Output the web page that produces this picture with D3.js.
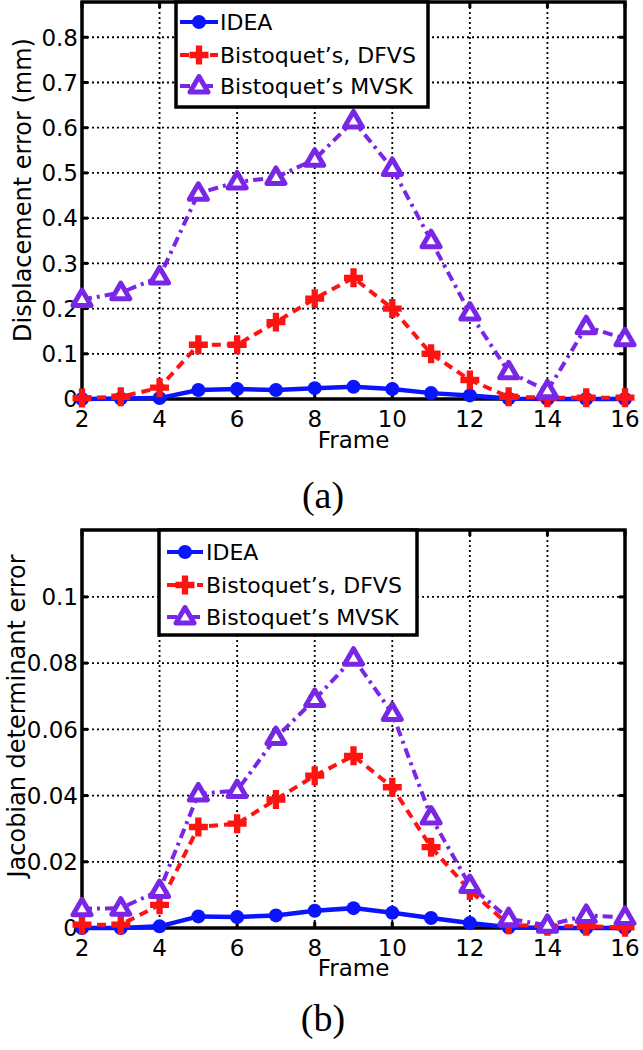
<!DOCTYPE html>
<html lang="en">
<head>
<meta charset="UTF-8">
<title>Displacement / Jacobian error</title>
<script src="https://cdn.jsdelivr.net/npm/d3@7/dist/d3.min.js"></script>
<style>
  body { margin: 0; background: #fff; }
  svg { display: block; }
  .tick-label { font-family: "DejaVu Sans", sans-serif; font-size: 23px; fill: #000; }
  .axis-title { font-family: "DejaVu Sans", sans-serif; font-size: 24px; fill: #000; }
  .legend-text { font-family: "DejaVu Sans", sans-serif; font-size: 22px; fill: #000; }
  .caption { font-family: "Liberation Serif", "DejaVu Serif", serif; font-size: 38px; fill: #000; }
</style>
</head>
<body>
<svg id="chart" width="643" height="1050"></svg>
<script>
// frames on the x axis
const frames = [2, 3, 4, 5, 6, 7, 8, 9, 10, 11, 12, 13, 14, 15, 16];
const xTicks = [2, 4, 6, 8, 10, 12, 14, 16];
const seriesNames = ["IDEA", "Bistoquet\u2019s, DFVS", "Bistoquet\u2019s MVSK"];

// (a) displacement error (mm)
const dispIdea  = [0, 0.001, 0.002, 0.020, 0.022, 0.020, 0.024, 0.027, 0.022, 0.013, 0.008, 0.001, 0, 0, 0];
const dispDfvs  = [0.002, 0.005, 0.025, 0.120, 0.120, 0.170, 0.222, 0.268, 0.200, 0.100, 0.042, 0.005, 0.003, 0.003, 0.003];
const dispMvsk  = [0.220, 0.235, 0.270, 0.455, 0.480, 0.490, 0.530, 0.615, 0.510, 0.350, 0.190, 0.060, 0.018, 0.160, 0.133];
const dispTicks = [0, 0.1, 0.2, 0.3, 0.4, 0.5, 0.6, 0.7, 0.8];
const dispTickLabels = ["0", "0.1", "0.2", "0.3", "0.4", "0.5", "0.6", "0.7", "0.8"];

// (b) jacobian determinant error
const jacIdea  = [0, 0, 0.0005, 0.0035, 0.0033, 0.0038, 0.0052, 0.0060, 0.0046, 0.0030, 0.0015, 0.0002, 0, 0, 0];
const jacDfvs  = [0.001, 0.001, 0.007, 0.0305, 0.0315, 0.0388, 0.046, 0.052, 0.0425, 0.0244, 0.0113, 0.001, 0.0005, 0.0005, 0.0002];
const jacMvsk  = [0.0058, 0.006, 0.0113, 0.0405, 0.0415, 0.0575, 0.069, 0.0815, 0.0648, 0.0335, 0.0128, 0.0028, 0.0008, 0.0038, 0.0032];
const jacTicks = [0, 0.02, 0.04, 0.06, 0.08, 0.1];
const jacTickLabels = ["0", "0.02", "0.04", "0.06", "0.08", "0.1"];

const styles = [
  { color: "#0a14ff", dash: null,        marker: "circle" },
  { color: "#ff1212", dash: "9,6",       marker: "plus" },
  { color: "#7a26e6", dash: "10,5,3,5",  marker: "triangle" }
];

const svg = d3.select("#chart");

function drawMarker(g, type, color, x, y) {
  if (type === "circle") {
    g.append("circle").attr("cx", x).attr("cy", y).attr("r", 7).attr("fill", color);
  } else if (type === "plus") {
    g.append("path").attr("transform", `translate(${x},${y})`)
      .attr("d", d3.symbol().type(d3.symbolCross).size(200)())
      .attr("fill", color);
  } else {
    g.append("path").attr("transform", `translate(${x},${y})`)
      .attr("d", "M0,-9.5L9,6L-9,6Z")
      .attr("fill", "#fff").attr("stroke", color).attr("stroke-width", 5)
      .attr("stroke-linejoin", "round");
  }
}

function drawPanel(p) {
  const g = svg.append("g");
  const x = d3.scaleLinear().domain([2, 16]).range([p.left, p.right]);
  const y = d3.scaleLinear().domain([0, p.yMax]).range([p.bottom, p.top]);

  // grid
  g.selectAll(".vgrid").data(xTicks.slice(1, -1)).enter().append("line")
    .attr("x1", d => x(d)).attr("x2", d => x(d))
    .attr("y1", p.top).attr("y2", p.bottom)
    .attr("stroke", "#000").attr("stroke-width", 1.8).attr("stroke-dasharray", "2,3");
  g.selectAll(".hgrid").data(p.yTicks.slice(1)).enter().append("line")
    .attr("x1", p.left).attr("x2", p.right)
    .attr("y1", d => y(d)).attr("y2", d => y(d))
    .attr("stroke", "#000").attr("stroke-width", 1.8).attr("stroke-dasharray", "2,3");

  // axes box and ticks
  g.append("rect").attr("x", p.left).attr("y", p.top)
    .attr("width", p.right - p.left).attr("height", p.bottom - p.top)
    .attr("fill", "none").attr("stroke", "#000").attr("stroke-width", 3.5);
  xTicks.forEach(t => {
    g.append("line").attr("x1", x(t)).attr("x2", x(t)).attr("y1", p.bottom).attr("y2", p.bottom - 6)
      .attr("stroke", "#000").attr("stroke-width", 3);
    g.append("line").attr("x1", x(t)).attr("x2", x(t)).attr("y1", p.top).attr("y2", p.top + 6)
      .attr("stroke", "#000").attr("stroke-width", 3);
  });
  p.yTicks.forEach(t => {
    g.append("line").attr("x1", p.left).attr("x2", p.left + 6).attr("y1", y(t)).attr("y2", y(t))
      .attr("stroke", "#000").attr("stroke-width", 3);
    g.append("line").attr("x1", p.right).attr("x2", p.right - 6).attr("y1", y(t)).attr("y2", y(t))
      .attr("stroke", "#000").attr("stroke-width", 3);
  });

  // tick labels
  g.selectAll(".xl").data(xTicks).enter().append("text")
    .attr("class", "tick-label").attr("x", d => x(d)).attr("y", p.bottom + 28)
    .attr("text-anchor", "middle").text(d => d);
  g.selectAll(".yl").data(p.yTicks).enter().append("text")
    .attr("class", "tick-label").attr("x", p.left - 4).attr("y", d => y(d))
    .attr("dy", "0.36em").attr("text-anchor", "end")
    .text((d, i) => p.yTickLabels[i]);

  // axis titles
  g.append("text").attr("class", "tick-label")
    .attr("x", (p.left + p.right) / 2).attr("y", p.bottom + p.frameOffset)
    .attr("text-anchor", "middle").text("Frame");
  g.append("text").attr("class", "axis-title")
    .attr("transform", `translate(${p.yLabelX},${p.yLabelY}) rotate(-90)`)
    .attr("text-anchor", "middle").text(p.yLabel);

  // series
  const line = d3.line().x((d, i) => x(frames[i])).y(d => y(d));
  p.series.forEach((vals, si) => {
    const s = styles[si];
    g.append("path").datum(vals).attr("d", line)
      .attr("fill", "none").attr("stroke", s.color).attr("stroke-width", si === 0 ? 4.5 : 4)
      .attr("stroke-dasharray", s.dash);
    vals.forEach((v, i) => drawMarker(g, s.marker, s.color, x(frames[i]), y(v)));
  });

  // legend
  const lg = g.append("g").attr("transform", `translate(${p.legend.x},${p.legend.y})`);
  lg.append("rect").attr("width", p.legend.w).attr("height", p.legend.h)
    .attr("fill", "#fff").attr("stroke", "#000").attr("stroke-width", 3.5);
  seriesNames.forEach((name, i) => {
    const s = styles[i];
    const cy = p.legend.rows[i];
    lg.append("line").attr("x1", p.legend.lx0).attr("x2", p.legend.lx1)
      .attr("y1", cy).attr("y2", cy)
      .attr("stroke", s.color).attr("stroke-width", 4).attr("stroke-dasharray", s.dash);
    drawMarker(lg, s.marker, s.color, (p.legend.lx0 + p.legend.lx1) / 2, cy);
    lg.append("text").attr("class", "legend-text")
      .attr("x", p.legend.tx).attr("y", cy).attr("dy", "0.36em").text(name);
  });

  svg.append("text").attr("class", "caption")
    .attr("x", p.captionX).attr("y", p.captionY).attr("text-anchor", "middle").text(p.caption);
}

drawPanel({
  left: 82, right: 625, top: 2, bottom: 399, yMax: 0.878,
  yTicks: dispTicks, yTickLabels: dispTickLabels,
  yLabel: "Displacement error (mm)", yLabelX: 31, yLabelY: 190, frameOffset: 49,
  series: [dispIdea, dispDfvs, dispMvsk],
  legend: { x: 176, y: 2, w: 252, h: 105, rows: [20, 53, 84], lx0: 4, lx1: 42, tx: 44 },
  caption: "(a)", captionX: 323, captionY: 508
});

drawPanel({
  left: 82, right: 625, top: 530, bottom: 928, yMax: 0.1202,
  yTicks: jacTicks, yTickLabels: jacTickLabels,
  yLabel: "Jacobian determinant error", yLabelX: 25, yLabelY: 716, frameOffset: 48,
  series: [jacIdea, jacDfvs, jacMvsk],
  legend: { x: 159, y: 530, w: 258, h: 105, rows: [22, 55, 87], lx0: 8, lx1: 44, tx: 47 },
  caption: "(b)", captionX: 323, captionY: 1031
});
</script>
</body>
</html>
